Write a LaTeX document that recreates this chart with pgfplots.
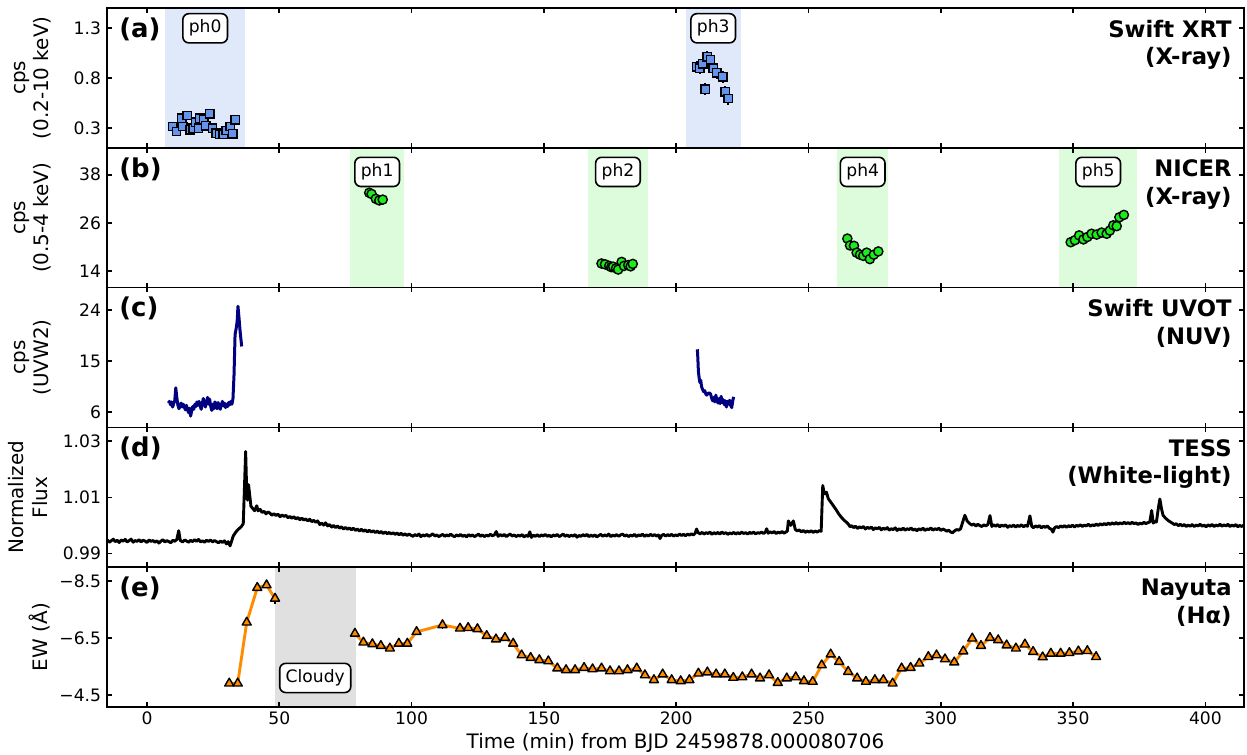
\documentclass[border=0pt]{standalone}
\usepackage{fontspec}
\setmainfont{DejaVu Sans}
\usepackage{pgfplots}
\pgfplotsset{compat=1.18}
\usepgfplotslibrary{groupplots}
\definecolor{xrtblue}{RGB}{100,149,237}
\definecolor{shadeblue}{RGB}{223,233,250}
\definecolor{nicergreen}{RGB}{30,235,30}
\definecolor{shadegreen}{RGB}{220,252,220}
\definecolor{cloudgray}{RGB}{224,224,224}
\definecolor{uvotnavy}{RGB}{0,0,128}
\definecolor{haorange}{RGB}{255,140,0}
\tikzset{
  phbox/.style={draw=black, line width=0.8bp, fill=white, rounded corners=3bp,
    inner xsep=3bp, inner ysep=3bp, font=\fontsize{8.6}{10}\selectfont,
    text height=6.5bp, text depth=2.1bp},
  plabel/.style={anchor=north west, inner sep=0pt, xshift=6bp, yshift=-4.6bp,
    font=\fontsize{13}{15}\selectfont\bfseries},
  rlabel/.style={anchor=north east, align=right, inner sep=0pt, xshift=-6bp, yshift=-5.8bp,
    font=\fontsize{11.4}{13.8}\selectfont\bfseries}
}
\begin{document}
\begin{tikzpicture}
\begin{groupplot}[
  group style={group size=1 by 5, vertical sep=0pt, xticklabels at=edge bottom},
  width=568.5bp, height=69.9bp, scale only axis,
  xmin=-15.1, xmax=414.6,
  xtick={0,50,100,150,200,250,300,350,400},
  xticklabels={0,50,100,150,200,250,300,350,400},
  tick align=inside,
  major tick length=2.4bp,
  every tick/.style={black, line width=0.8bp},
  axis line style={line width=0.8bp},
  axis on top,
  tick label style={font=\fontsize{8.6}{10}\selectfont, inner sep=0pt},
  xticklabel shift=2.4bp,
  yticklabel shift=2.8bp,
  label style={font=\fontsize{10.2}{12.2}\selectfont},
  every axis y label/.style={at={(axis description cs:-0.0484,0.5)}, anchor=south, rotate=90, align=center, inner sep=0pt},
  every axis x label/.style={at={(axis description cs:0.5,0)}, anchor=north, yshift=-13bp, inner sep=0pt},
]
% ---------------- (a) Swift XRT
\nextgroupplot[ymin=0.103, ymax=1.503, ytick={0.3,0.8,1.3}, yticklabels={0.3,0.8,1.3},
  ylabel={cps\\(0.2-10 keV)}]
\fill[shadeblue] (axis cs:7,0.103) rectangle (axis cs:37,1.503);
\fill[shadeblue] (axis cs:203.7,0.103) rectangle (axis cs:224.4,1.503);
\addplot[only marks, mark=square*, mark size=2.1bp,
  mark options={fill=xrtblue, draw=black, line width=0.7bp},
  error bars/.cd, y dir=both, y explicit, error mark=none,
  error bar style={black, line width=1bp}]
coordinates {
(9.7,0.316) +- (0,0.035)
(11.2,0.266) +- (0,0.035)
(13.1,0.400) +- (0,0.035)
(13.5,0.316) +- (0,0.035)
(15.2,0.426) +- (0,0.035)
(16.3,0.283) +- (0,0.035)
(17.5,0.300) +- (0,0.035)
(18.5,0.360) +- (0,0.035)
(19.5,0.300) +- (0,0.035)
(20.0,0.400) +- (0,0.035)
(21.5,0.383) +- (0,0.035)
(22.3,0.323) +- (0,0.035)
(23.8,0.443) +- (0,0.035)
(24.8,0.300) +- (0,0.035)
(26.1,0.250) +- (0,0.035)
(27.6,0.240) +- (0,0.035)
(28.8,0.240) +- (0,0.035)
(29.9,0.276) +- (0,0.035)
(31.4,0.316) +- (0,0.035)
(32.4,0.243) +- (0,0.035)
(33.4,0.383) +- (0,0.035)
};
\addplot[only marks, mark=square*, mark size=2.1bp,
  mark options={fill=xrtblue, draw=black, line width=0.7bp},
  error bars/.cd, y dir=both, y explicit, error mark=none,
  error bar style={black, line width=1bp}]
coordinates {
(207.7,0.916) +- (0,0.06)
(209.0,0.900) +- (0,0.06)
(210.0,0.943) +- (0,0.06)
(211.0,0.690) +- (0,0.06)
(211.7,1.016) +- (0,0.06)
(213.0,0.983) +- (0,0.06)
(214.0,0.900) +- (0,0.06)
(215.3,0.856) +- (0,0.06)
(217.6,0.816) +- (0,0.06)
(218.6,0.663) +- (0,0.06)
(219.6,0.596) +- (0,0.06)
};
\node[phbox] at (axis cs:22,1.3) {ph0};
\node[phbox] at (axis cs:214,1.3) {ph3};
\node[plabel] at (axis description cs:0,1) {(a)};
\node[rlabel] at (axis description cs:1,1) {Swift XRT\\(X-ray)};
% ---------------- (b) NICER
\nextgroupplot[ymin=9.9, ymax=44.7, ytick={14,26,38}, yticklabels={14,26,38},
  ylabel={cps\\(0.5-4 keV)}]
\fill[shadegreen] (axis cs:76.7,9.9) rectangle (axis cs:97.2,44.7);
\fill[shadegreen] (axis cs:166.8,9.9) rectangle (axis cs:189.2,44.7);
\fill[shadegreen] (axis cs:260.9,9.9) rectangle (axis cs:280.2,44.7);
\fill[shadegreen] (axis cs:344.8,9.9) rectangle (axis cs:374.3,44.7);
\addplot[only marks, mark=*, mark size=2.3bp,
  mark options={fill=nicergreen, draw=black, line width=0.7bp}]
coordinates {
(84.0,33.5) (84.9,33.2) (86.5,32.0) (87.8,31.6) (89.1,31.8)
(171.8,15.9) (173.1,15.7) (174.7,15.3) (175.5,15.0) (176.2,15.1) (177.3,14.7)
(178.1,14.4) (179.4,16.3) (180.3,15.3) (181.9,15.5) (182.8,15.2) (183.6,15.8)
(264.7,22.1) (265.7,20.4) (267.2,20.3) (268.2,18.6) (269.5,18.1) (270.7,17.8)
(272.0,18.6) (273.2,17.0) (274.7,18.1) (276.4,18.9)
(349.1,21.2) (350.7,21.7) (352.3,22.9) (353.9,21.9) (355.4,22.5) (357.0,23.3)
(358.9,23.1) (360.8,23.6) (362.7,23.3) (363.9,24.1) (365.2,25.4) (366.5,25.2)
(367.5,27.4) (369.2,28.0)
};
\node[phbox] at (axis cs:87,38.7) {ph1};
\node[phbox] at (axis cs:178,38.7) {ph2};
\node[phbox] at (axis cs:270.5,38.7) {ph4};
\node[phbox] at (axis cs:359.5,38.7) {ph5};
\node[plabel] at (axis description cs:0,1) {(b)};
\node[rlabel] at (axis description cs:1,1) {NICER\\(X-ray)};
% ---------------- (c) Swift UVOT
\nextgroupplot[ymin=3.3, ymax=28, ytick={6,15,24}, yticklabels={6,15,24},
  ylabel={cps\\(UVW2)}]
\addplot[uvotnavy, line width=1.5bp, line join=round] coordinates {
(8.1,7.6) (8.5,7.9) (8.9,7.3) (9.3,7.8) (9.7,6.9) (10.1,7.5) (10.5,8.0) (10.9,10.3)
(11.3,8.5) (11.7,7.2) (12.1,6.6) (12.5,7.1) (12.9,7.6) (13.3,6.9) (13.7,7.4) (14.1,7.0)
(14.5,6.4) (14.9,7.2) (15.3,6.6) (15.7,5.9) (16.1,6.7) (16.5,5.3) (16.9,6.2) (17.3,7.0)
(17.7,6.5) (18.1,7.4) (18.5,7.0) (18.9,7.8) (19.3,7.2) (19.7,7.9) (20.1,7.1) (20.5,6.5)
(20.9,7.5) (21.3,8.4) (21.7,7.6) (22.1,6.9) (22.5,7.7) (22.9,8.6) (23.3,7.4) (23.7,8.3)
(24.1,7.0) (24.5,6.3) (24.9,7.4) (25.3,6.6) (25.7,7.8) (26.1,7.2) (26.5,6.6) (26.9,7.7)
(27.3,6.9) (27.7,6.5) (28.1,7.3) (28.5,7.9) (28.9,7.1) (29.3,7.6) (29.7,6.8) (30.1,7.4)
(30.5,7.0) (30.9,7.7) (31.3,7.3) (31.7,7.9) (32.1,7.4) (32.5,8.3) (32.9,12.5) (33.3,19.7)
(33.8,21.0) (34.1,22.1) (34.4,24.7) (34.8,22.6) (35.2,20.3) (35.8,17.6)
};
\addplot[uvotnavy, line width=1.5bp, line join=round] coordinates {
(208.0,17.1) (208.2,15.5) (208.4,13.2) (208.7,12.0) (209.0,11.2) (209.3,11.6) (209.6,10.5)
(210.0,10.0) (210.4,9.6) (210.8,9.8) (211.2,9.2) (211.6,9.0) (212.0,9.3) (212.5,9.4)
(213.0,9.2) (213.4,8.5) (213.8,8.0) (214.2,8.6) (214.6,7.8) (215.0,9.0) (215.4,8.1)
(215.8,7.6) (216.2,8.4) (216.6,7.5) (217.0,8.8) (217.4,7.7) (217.8,8.2) (218.2,7.3)
(218.6,8.0) (219.0,6.9) (219.4,7.9) (219.8,7.4) (220.2,8.1) (220.6,7.2) (221.0,6.8)
(221.4,8.0) (221.7,8.7)
};
\node[plabel] at (axis description cs:0,1) {(c)};
\node[rlabel] at (axis description cs:1,1) {Swift UVOT\\(NUV)};
% ---------------- (d) TESS
\nextgroupplot[ymin=0.9851, ymax=1.0349, ytick={0.99,1.01,1.03}, yticklabels={0.99,1.01,1.03},
  ylabel={Normalized\\Flux\vphantom{p}}]
\addplot[black, line width=1.45bp, line join=round] coordinates {
(-15.0,0.9948) (-14.2,0.9940) (-13.5,0.9945) (-12.7,0.9951) (-12.0,0.9942) (-11.2,0.9947)
(-10.5,0.9939) (-9.7,0.9948) (-9.0,0.9944) (-8.2,0.9950) (-7.5,0.9941) (-6.7,0.9946)
(-6.0,0.9951) (-5.2,0.9940) (-4.5,0.9946) (-3.7,0.9943) (-3.0,0.9949) (-2.2,0.9941)
(-1.5,0.9947) (-0.7,0.9944) (0.0,0.9939) (0.8,0.9948) (1.5,0.9943) (2.3,0.9946)
(3.0,0.9940) (3.8,0.9945) (4.5,0.9937) (5.3,0.9944) (6.0,0.9949) (6.8,0.9941)
(7.5,0.9946) (8.3,0.9942) (9.0,0.9938) (9.8,0.9947) (10.5,0.9943) (11.3,0.9950)
(12.0,0.9981) (12.6,0.9946) (13.5,0.9941) (14.3,0.9948) (15.0,0.9944) (15.8,0.9940)
(16.5,0.9947) (17.3,0.9942) (18.0,0.9949) (18.8,0.9943) (19.5,0.9950) (20.3,0.9941)
(21.0,0.9945) (21.8,0.9940) (22.5,0.9947) (23.3,0.9943) (24.0,0.9948) (24.8,0.9941)
(25.5,0.9946) (26.3,0.9942) (27.0,0.9938) (27.8,0.9944) (28.5,0.9939) (29.3,0.9945)
(30.0,0.9934) (30.7,0.9942) (31.4,0.9927) (32.0,0.9944)
(32.6,0.9962) (33.5,0.9975) (34.2,0.9983) (35.0,0.9990) (35.7,0.9996) (36.4,1.0006)
(36.9,1.0150) (37.3,1.0263) (37.7,1.0120) (38.0,1.0090) (38.4,1.0145) (38.8,1.0110)
(39.3,1.0068) (40.0,1.0060) (40.7,1.0052) (41.5,1.0070) (42.0,1.0052) (42.8,1.0057)
(43.5,1.0046) (44.3,1.0050) (45.0,1.0041) (45.8,1.0048) (46.5,1.0043) (47.3,1.0036)
(48.0,1.0042) (48.8,1.0035) (49.5,1.0040) (50.3,1.0031) (51.0,1.0037) (51.8,1.0032)
(52.5,1.0036) (53.3,1.0027) (54.0,1.0032) (54.8,1.0025) (55.5,1.0031) (56.3,1.0023)
(57.0,1.0028) (57.8,1.0020) (58.5,1.0026) (59.3,1.0019) (60.0,1.0023) (60.8,1.0016)
(61.5,1.0022) (62.3,1.0013) (63.0,1.0018) (63.8,1.0011) (64.5,1.0016) (65.3,1.0003)
(66.0,1.0008) (66.8,1.0001) (67.5,1.0009) (68.3,0.9998) (69.0,1.0003) (69.8,0.9994)
(70.5,1.0000) (71.3,0.9992) (72.0,0.9998) (72.8,0.9990) (73.5,0.9995) (74.3,0.9987)
(75.0,0.9993) (75.8,0.9986) (76.5,0.9991) (77.3,0.9984) (78.0,0.9990) (78.8,0.9982)
(79.5,0.9987) (80.3,0.9980) (81.0,0.9986) (81.8,0.9979) (82.5,0.9984) (83.3,0.9977)
(84.0,0.9983) (84.8,0.9976) (85.5,0.9981) (86.3,0.9974) (87.0,0.9980) (87.8,0.9973)
(88.5,0.9978) (89.3,0.9971) (90.0,0.9977) (90.8,0.9970) (91.5,0.9975) (92.3,0.9969)
(93.0,0.9974) (93.8,0.9968) (94.5,0.9973) (95.3,0.9966) (96.0,0.9972) (96.8,0.9965)
(97.5,0.9970) (98.3,0.9964) (99.0,0.9969)
(100.5,0.9961) (101.3,0.9967) (102.0,0.9963) (102.8,0.9969) (103.5,0.9960) (104.3,0.9966)
(105.0,0.9962) (105.8,0.9968) (106.5,0.9961) (107.3,0.9965) (108.0,0.9970) (108.8,0.9962)
(109.5,0.9966) (110.3,0.9960) (111.0,0.9964) (111.8,0.9968) (112.5,0.9961) (113.3,0.9966)
(114.0,0.9962) (114.8,0.9969) (115.5,0.9963) (116.3,0.9960) (117.0,0.9966) (117.8,0.9962)
(118.5,0.9968) (119.3,0.9961) (120.0,0.9965) (120.8,0.9959) (121.5,0.9967) (122.3,0.9962)
(123.0,0.9966) (123.8,0.9960) (124.5,0.9964) (125.3,0.9969) (126.0,0.9961) (126.8,0.9966)
(127.5,0.9960) (128.3,0.9965) (129.0,0.9962) (129.8,0.9968) (130.5,0.9963) (131.3,0.9966)
(132.0,0.9978) (132.7,0.9961) (133.5,0.9967) (134.3,0.9962) (135.0,0.9968) (135.8,0.9960)
(136.5,0.9965) (137.3,0.9969) (138.0,0.9962) (138.8,0.9966) (139.5,0.9960) (140.3,0.9965)
(141.0,0.9962) (141.8,0.9967) (142.5,0.9959) (143.3,0.9964) (144.0,0.9961) (144.7,0.9977)
(145.3,0.9957) (146.0,0.9965) (146.8,0.9961) (147.5,0.9967) (148.3,0.9960) (149.0,0.9966)
(149.8,0.9962) (150.5,0.9968) (151.3,0.9961) (152.0,0.9965) (152.8,0.9959) (153.5,0.9966)
(154.3,0.9962) (155.0,0.9968) (155.8,0.9960) (156.5,0.9964) (157.3,0.9969) (158.0,0.9961)
(158.8,0.9966) (159.5,0.9960) (160.3,0.9965) (161.0,0.9962) (161.8,0.9967) (162.5,0.9958)
(163.3,0.9964) (164.0,0.9961) (164.8,0.9967) (165.5,0.9962) (166.3,0.9968) (167.0,0.9960)
(167.8,0.9965) (168.5,0.9961) (169.3,0.9966) (170.0,0.9959) (170.8,0.9964) (171.5,0.9968)
(172.3,0.9961) (173.0,0.9966) (173.8,0.9962) (174.5,0.9969) (175.3,0.9960) (176.0,0.9965)
(176.8,0.9962) (177.5,0.9967) (178.3,0.9961) (179.0,0.9966) (179.8,0.9969) (180.5,0.9962)
(181.3,0.9966) (182.0,0.9960) (182.8,0.9965) (183.5,0.9962) (184.3,0.9968) (185.0,0.9960)
(185.8,0.9966) (186.5,0.9963) (187.3,0.9969) (188.0,0.9961) (188.8,0.9966) (189.5,0.9962)
(190.3,0.9968) (191.0,0.9963) (191.8,0.9967) (192.5,0.9962) (193.3,0.9966) (193.9,0.9953)
(194.5,0.9964) (195.3,0.9968) (196.0,0.9962) (196.8,0.9967) (197.5,0.9963) (198.3,0.9968)
(199.0,0.9962) (199.8,0.9966) (200.5,0.9963) (201.3,0.9969) (202.0,0.9964) (202.8,0.9968)
(203.5,0.9963) (204.3,0.9969) (205.0,0.9965) (205.8,0.9970) (206.5,0.9966) (207.2,0.9972)
(207.7,0.9987) (208.3,0.9974) (209.0,0.9970) (209.8,0.9975) (210.5,0.9969) (211.3,0.9974)
(212.0,0.9971) (212.8,0.9976) (213.5,0.9968) (214.3,0.9974) (215.0,0.9970) (215.8,0.9975)
(216.5,0.9969) (217.3,0.9976) (218.0,0.9971) (218.8,0.9974) (219.5,0.9968) (220.3,0.9973)
(221.0,0.9970) (221.8,0.9975) (222.5,0.9969) (223.3,0.9974) (224.0,0.9970) (224.8,0.9976)
(225.5,0.9971) (226.3,0.9974) (227.0,0.9969) (227.8,0.9975) (228.5,0.9971) (229.3,0.9976)
(230.0,0.9970) (230.8,0.9974) (231.5,0.9972) (232.3,0.9976) (233.0,0.9971) (233.7,0.9976)
(234.2,0.9988) (234.8,0.9972) (235.5,0.9977) (236.3,0.9973) (237.0,0.9978) (237.8,0.9971)
(238.5,0.9976) (239.3,0.9973) (240.0,0.9978) (240.8,0.9972) (241.5,0.9977) (242.0,0.9979)
(242.4,1.0016) (243.3,1.0000) (244.3,1.0016) (245.0,0.9986) (245.8,0.9980) (246.5,0.9984)
(247.3,0.9977) (248.0,0.9982) (248.8,0.9975) (249.5,0.9980) (250.3,0.9976) (251.0,0.9981)
(251.8,0.9975) (252.5,0.9980) (253.3,0.9976) (254.0,0.9981) (254.8,0.9979)
(255.4,1.0142) (256.0,1.0112) (256.8,1.0118) (257.5,1.0095)
(258.5,1.0082) (259.4,1.0070) (260.5,1.0055) (261.5,1.0040) (262.5,1.0028) (263.5,1.0018)
(264.5,1.0010) (265.1,1.0004) (265.7,0.9995) (266.4,0.9999) (267.0,0.9992) (267.8,0.9997)
(268.5,0.9989) (269.3,0.9995) (270.0,0.9991) (270.8,0.9996) (271.5,0.9987) (272.3,0.9993)
(273.0,0.9989) (273.8,0.9994) (274.5,0.9985) (275.3,0.9991) (276.0,0.9988) (276.8,0.9993)
(277.5,0.9984) (278.3,0.9990) (279.0,0.9986) (279.8,0.9992) (280.5,0.9983) (281.3,0.9988)
(282.0,0.9985) (282.8,0.9991) (283.5,0.9982) (284.3,0.9988) (285.0,0.9984) (285.8,0.9990)
(286.5,0.9983) (287.3,0.9988) (288.0,0.9985) (288.8,0.9991) (289.5,0.9983) (290.3,0.9987)
(291.0,0.9981) (291.8,0.9988) (292.5,0.9984) (293.3,0.9990) (294.0,0.9982) (294.8,0.9987)
(295.5,0.9985) (296.3,0.9991) (297.0,0.9983) (297.8,0.9988) (298.5,0.9985) (299.3,0.9990)
(300.0,0.9982) (300.8,0.9987) (301.5,0.9984) (302.3,0.9979) (303.0,0.9983) (303.8,0.9976)
(304.5,0.9974) (305.3,0.9981) (306.0,0.9985) (306.8,0.9983) (307.5,0.9988)
(308.5,1.0018) (309.1,1.0036) (310.0,1.0015) (311.0,1.0006) (311.8,1.0001) (312.5,1.0005)
(313.3,0.9998) (314.0,1.0004) (314.8,0.9999) (315.5,0.9996) (316.3,1.0002) (317.0,0.9998)
(317.8,1.0003) (318.6,1.0035) (319.3,0.9996) (320.0,1.0002) (320.8,0.9997) (321.5,1.0003)
(322.3,0.9995) (323.0,1.0001) (323.8,0.9997) (324.5,1.0002) (325.3,0.9993) (326.0,0.9999)
(326.8,0.9996) (327.5,1.0001) (328.3,0.9994) (329.0,1.0000) (329.8,0.9996) (330.5,1.0002)
(331.3,0.9995) (332.0,1.0000) (332.8,0.9997) (333.7,1.0034) (334.4,0.9996) (335.0,0.9992)
(335.8,0.9998) (336.5,0.9994) (337.3,0.9999) (338.0,0.9991) (338.8,0.9997) (339.5,0.9993)
(340.3,0.9998) (341.0,0.9990) (341.8,0.9986) (342.4,0.9976) (343.0,0.9991) (343.8,0.9996)
(344.5,0.9992) (345.3,0.9998) (346.0,0.9994) (346.8,0.9999) (347.5,0.9993) (348.3,0.9999)
(349.0,0.9995) (349.8,1.0001) (350.5,0.9994) (351.3,1.0000) (352.0,0.9997) (352.8,1.0002)
(353.5,0.9996) (354.3,1.0001) (355.0,0.9998) (355.8,1.0004) (356.5,0.9997) (357.3,1.0002)
(358.0,0.9999) (358.8,1.0005) (359.5,0.9999) (360.3,1.0006) (361.0,1.0001) (361.8,1.0007)
(362.5,1.0002) (363.3,1.0008) (364.0,1.0003) (364.8,1.0009) (365.5,1.0004) (366.3,1.0010)
(367.0,1.0004) (367.8,1.0009) (368.5,1.0005) (369.3,1.0011) (370.0,1.0006) (370.8,1.0010)
(371.5,1.0005) (372.3,1.0011) (373.0,1.0006) (373.8,1.0009) (374.5,1.0003) (375.3,1.0008)
(376.0,1.0005) (376.8,1.0011) (377.5,1.0006) (378.3,1.0010) (379.0,1.0012)
(379.7,1.0053) (380.3,1.0008) (381.0,1.0014) (381.5,1.0012) (382.2,1.0060) (382.8,1.0094)
(383.4,1.0060) (384.0,1.0036) (385.0,1.0025) (386.0,1.0017) (386.8,1.0012) (387.5,1.0008)
(388.3,1.0003) (389.0,1.0006) (389.8,0.9999) (390.5,1.0004) (391.3,0.9998) (392.0,1.0003)
(392.8,0.9996) (393.5,1.0001) (394.3,0.9997) (395.0,1.0003) (395.8,0.9996) (396.5,1.0001)
(397.3,0.9998) (398.0,1.0004) (398.8,0.9997) (399.5,1.0001) (400.3,0.9995) (401.0,1.0002)
(401.8,0.9997) (402.5,1.0003) (403.3,0.9996) (404.0,1.0001) (404.8,0.9998) (405.5,1.0004)
(406.3,0.9997) (407.0,1.0002) (407.8,0.9998) (408.5,1.0004) (409.3,0.9996) (410.0,1.0001)
(410.8,0.9997) (411.5,1.0003) (412.3,0.9995) (413.0,1.0000) (413.8,0.9996) (414.5,1.0001)
};
\node[plabel] at (axis description cs:0,1) {(d)};
\node[rlabel] at (axis description cs:1,1) {TESS\\(White-light)};
% ---------------- (e) Nayuta H-alpha
\nextgroupplot[y dir=reverse, ymin=-8.99, ymax=-4.08, ytick={-8.5,-6.5,-4.5},
  yticklabels={−8.5,−6.5,−4.5},
  ylabel={EW (Å)\vphantom{p}},
  xlabel={Time (min) from BJD 2459878.000080706}]
\fill[cloudgray] (axis cs:48.4,-8.99) rectangle (axis cs:78.9,-4.08);
\addplot[haorange, line width=1.45bp, line join=round,
  mark=triangle*, mark size=2.6bp,
  mark options={fill=haorange, draw=black, line width=0.7bp, solid},
  error bars/.cd, y dir=both, y explicit, error mark=none,
  error bar style={black, line width=0.9bp}]
coordinates {
(31.1,-4.91) +- (0,0.08)
(34.3,-4.91) +- (0,0.08)
(37.7,-7.05) +- (0,0.08)
(41.7,-8.27) +- (0,0.08)
(45.2,-8.36) +- (0,0.08)
(48.4,-7.89) +- (0,0.2)
};
\addplot[haorange, line width=1.45bp, line join=round,
  mark=triangle*, mark size=2.6bp,
  mark options={fill=haorange, draw=black, line width=0.7bp, solid},
  error bars/.cd, y dir=both, y explicit, error mark=none,
  error bar style={black, line width=0.9bp}]
coordinates {
(78.6,-6.66) +- (0,0.08)
(81.8,-6.35) +- (0,0.08)
(85.2,-6.29) +- (0,0.08)
(88.4,-6.23) +- (0,0.08)
(91.8,-6.14) +- (0,0.08)
(95.2,-6.31) +- (0,0.08)
(98.4,-6.31) +- (0,0.08)
(101.9,-6.72) +- (0,0.08)
(111.7,-6.96) +- (0,0.15)
(118.3,-6.84) +- (0,0.08)
(121.4,-6.86) +- (0,0.08)
(124.9,-6.82) +- (0,0.08)
(128.4,-6.58) +- (0,0.08)
(131.9,-6.46) +- (0,0.08)
(135.3,-6.51) +- (0,0.08)
(138.4,-6.31) +- (0,0.08)
(141.6,-5.90) +- (0,0.08)
(145.0,-5.81) +- (0,0.08)
(148.3,-5.73) +- (0,0.08)
(151.7,-5.69) +- (0,0.08)
(155.1,-5.44) +- (0,0.08)
(158.4,-5.38) +- (0,0.08)
(161.8,-5.38) +- (0,0.08)
(165.2,-5.46) +- (0,0.08)
(168.4,-5.41) +- (0,0.08)
(171.8,-5.44) +- (0,0.08)
(175.0,-5.34) +- (0,0.08)
(178.4,-5.34) +- (0,0.08)
(181.6,-5.38) +- (0,0.08)
(185.1,-5.44) +- (0,0.08)
(188.2,-5.20) +- (0,0.08)
(191.6,-5.03) +- (0,0.08)
(194.9,-5.23) +- (0,0.08)
(198.3,-5.03) +- (0,0.08)
(201.7,-4.99) +- (0,0.08)
(205.0,-5.03) +- (0,0.08)
(208.4,-5.26) +- (0,0.08)
(211.8,-5.30) +- (0,0.08)
(215.1,-5.23) +- (0,0.08)
(218.4,-5.23) +- (0,0.08)
(221.6,-5.11) +- (0,0.08)
(225.0,-5.13) +- (0,0.08)
(228.5,-5.23) +- (0,0.08)
(231.7,-5.09) +- (0,0.08)
(235.1,-5.20) +- (0,0.08)
(238.4,-4.93) +- (0,0.08)
(241.8,-5.09) +- (0,0.08)
(245.2,-5.13) +- (0,0.08)
(248.3,-4.99) +- (0,0.08)
(251.6,-4.97) +- (0,0.08)
(255.0,-5.55) +- (0,0.08)
(258.4,-5.93) +- (0,0.08)
(261.6,-5.67) +- (0,0.08)
(265.0,-5.32) +- (0,0.08)
(268.4,-5.09) +- (0,0.08)
(271.7,-4.97) +- (0,0.08)
(275.1,-5.03) +- (0,0.08)
(278.3,-5.03) +- (0,0.08)
(281.8,-4.91) +- (0,0.08)
(285.2,-5.44) +- (0,0.08)
(288.6,-5.46) +- (0,0.08)
(291.9,-5.61) +- (0,0.08)
(295.3,-5.84) +- (0,0.08)
(298.4,-5.90) +- (0,0.08)
(301.6,-5.76) +- (0,0.08)
(305.1,-5.65) +- (0,0.08)
(308.5,-6.04) +- (0,0.08)
(311.9,-6.49) +- (0,0.08)
(315.2,-6.23) +- (0,0.08)
(318.6,-6.51) +- (0,0.08)
(321.7,-6.43) +- (0,0.08)
(324.9,-6.25) +- (0,0.08)
(328.4,-6.14) +- (0,0.08)
(331.8,-6.28) +- (0,0.08)
(334.9,-6.02) +- (0,0.08)
(338.5,-5.83) +- (0,0.08)
(341.6,-5.96) +- (0,0.08)
(345.3,-5.96) +- (0,0.08)
(348.6,-5.98) +- (0,0.08)
(352.0,-6.04) +- (0,0.08)
(355.4,-6.05) +- (0,0.08)
(358.7,-5.84) +- (0,0.08)
};
\node[phbox] at (axis cs:63.6,-5.10) {Cloudy};
\node[plabel] at (axis description cs:0,1) {(e)};
\node[rlabel] at (axis description cs:1,1) {Nayuta\\(Hα)};
\end{groupplot}
\pgfresetboundingbox
\path[use as bounding box] ([xshift=-53.5bp, yshift=4bp]group c1r1.north west) rectangle ([xshift=1.5bp, yshift=-24bp]group c1r5.south east);
\end{tikzpicture}
\end{document}
